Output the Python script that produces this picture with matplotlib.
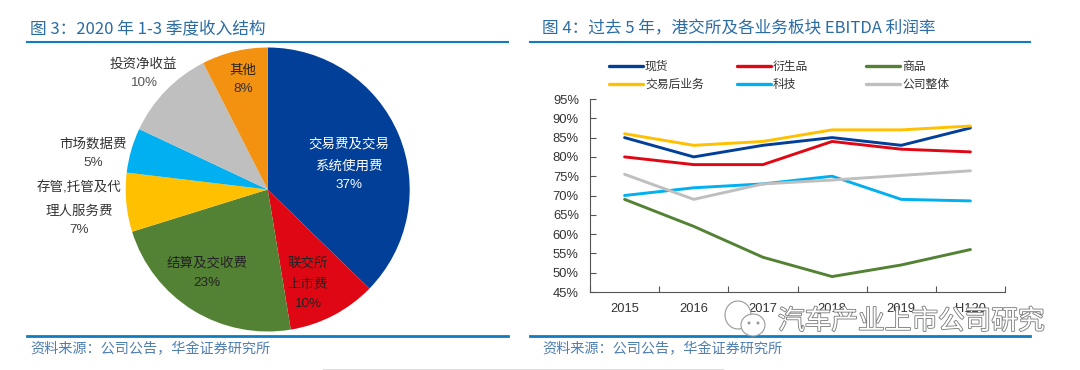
import matplotlib
matplotlib.use('Agg')
import matplotlib.pyplot as plt
import matplotlib.patheffects as pe
from matplotlib.patches import Ellipse

plt.rcParams['font.family'] = ['Liberation Sans', 'Noto Sans CJK SC', 'DejaVu Sans']

W, H = 1080, 370

# Pie data (slices, labels as printed)
pie_names = ['交易费及交易\n系统使用费', '联交所\n上市费', '结算及交收费',
             '存管,托管及代\n理人服务费', '市场数据费', '投资净收益', '其他']
pie_values = [37.3, 10.1, 22.8, 6.7, 5.1, 10.5, 7.5]
pie_pct = ['37%', '10%', '23%', '7%', '5%', '10%', '8%']
pie_colors = ['#023F98', '#E00714', '#548235', '#FFC000', '#00B0F0', '#BFBFBF', '#F39110']

# Line data
years = ['2015', '2016', '2017', '2018', '2019', 'H120']
spot = [85, 80, 83, 85, 83, 87.5]
derivatives = [80, 78, 78, 84, 82, 81.3]
commodities = [69, 62, 54, 49, 52, 56]
post_trade = [86, 83, 84, 87, 87, 88]
tech = [70, 72, 73, 75, 69, 68.6]
overall = [75.5, 69, 73, 74, 75.2, 76.4]
y_ticks = [45, 50, 55, 60, 65, 70, 75, 80, 85, 90, 95]

fig = plt.figure(figsize=(W / 100, H / 100), dpi=100)

# pixel-coordinate layer for titles, rules and free labels
bg = fig.add_axes([0, 0, 1, 1])
bg.set_xlim(0, W)
bg.set_ylim(H, 0)
bg.axis('off')

blue = '#0F7CBF'
title_col = '#2B6CA3'
src_col = '#4F7FAF'
for x0, x1 in [(27, 508), (530, 1030)]:
    bg.plot([x0, x1], [42.3, 42.3], color=blue, lw=1.5)
    bg.plot([x0, x1], [335.8, 335.8], color=blue, lw=2)
bg.plot([323, 723], [369.5, 369.5], color='#555555', lw=1)

title_font = ['Noto Sans CJK SC', 'DejaVu Sans']
bg.text(30, 29, '图 3：2020 年 1-3 季度收入结构', fontsize=12, color=title_col, va='center',
        family=title_font)
bg.text(542, 29, '图 4：过去 5 年，港交所及各业务板块 EBITDA 利润率', fontsize=12, color=title_col,
        va='center', family=title_font)
bg.text(30, 349.5, '资料来源：公司公告，华金证券研究所', fontsize=10.2, color=src_col, va='center')
bg.text(542, 349.5, '资料来源：公司公告，华金证券研究所', fontsize=10.2, color=src_col, va='center')

# Pie
r = 142
cx, cy = 267.7, 189.5
pie_ax = fig.add_axes([(cx - r) / W, 1 - (cy + r) / H, 2 * r / W, 2 * r / H])
pie_ax.pie(pie_values, colors=pie_colors, startangle=90, counterclock=False, radius=1)
pie_ax.set_xlim(-1, 1)
pie_ax.set_ylim(-1, 1)

# x, y of the first label line, second line, percent
label_x = [349, 307.6, 207, 79, 93.3, 143.6, 242.7]
label_y = [(144, 167, 185), (263, 285, 304), (263, None, 283), (188, 211, 230),
           (144, None, 163), (65, None, 83), (71, None, 89)]
label_cols = ['white', '#222222', '#222222', '#333333', '#333333', '#333333', '#222222']
pct_cols = ['white', '#222222', '#222222', '#444444', '#444444', '#555555', '#333333']
for name, pct, x, ys, c1, c2 in zip(pie_names, pie_pct, label_x, label_y, label_cols, pct_cols):
    parts = name.split('\n')
    bg.text(x, ys[0], parts[0], color=c1, fontsize=9.7, ha='center', va='center', zorder=5)
    if len(parts) > 1:
        bg.text(x, ys[1], parts[1], color=c1, fontsize=9.7, ha='center', va='center', zorder=5)
    bg.text(x, ys[2], pct, color=c2, fontsize=9.7, ha='center', va='center', zorder=5)
bg.set_zorder(3)
bg.patch.set_alpha(0)

# Line chart
left, right, top, bottom = 590, 1005, 99, 292
ax = fig.add_axes([left / W, 1 - bottom / H, (right - left) / W, (bottom - top) / H])
x = list(range(len(years)))
series = [
    (spot, '#023F98', '现货'),
    (derivatives, '#E00714', '衍生品'),
    (commodities, '#548235', '商品'),
    (post_trade, '#FFC000', '交易后业务'),
    (tech, '#00B0F0', '科技'),
    (overall, '#BFBFBF', '公司整体'),
]
for vals, col, name in series:
    ax.plot(x, vals, color=col, lw=2.1, label=name, solid_capstyle='round')
ax.set_xlim(-0.5, 5.5)
ax.set_ylim(45, 95)
ax.set_xticks([i - 0.5 for i in range(7)])
ax.set_xticklabels([])
ax.set_xticks(x, minor=True)
ax.set_xticklabels(years, minor=True, fontsize=9.3, color='#333333')
ax.tick_params(axis='x', which='minor', length=0, pad=8)
ax.tick_params(axis='x', which='major', direction='in', length=4, width=0.8, color='#555555')
ax.set_yticks(y_ticks)
ax.set_yticklabels([f'{v}%' for v in y_ticks], fontsize=9.4, color='#333333')
ax.tick_params(axis='y', which='major', direction='in', length=4, width=0.8, color='#555555', pad=8)
ax.spines['top'].set_visible(False)
ax.spines['right'].set_visible(False)
for s in ['left', 'bottom']:
    ax.spines[s].set_color('#555555')
    ax.spines[s].set_linewidth(0.8)
ax.patch.set_alpha(0)

# legend in two rows, as in the source
handles, labels = ax.get_legend_handles_labels()
leg_x = [609, 737, 866]
leg_y = [66, 84]
for i, (h, lab) in enumerate(zip(handles, labels)):
    lx = leg_x[i % 3]
    ly = leg_y[i // 3]
    bg.plot([lx, lx + 34], [ly, ly], color=h.get_color(), lw=2.4, solid_capstyle='round')
    bg.text(lx + 36, ly + 1, lab, fontsize=8.5, color='#333333', va='center')

# watermark
wm = [pe.withStroke(linewidth=1.2, foreground='#777777')]
bg.add_patch(Ellipse((738, 315), 26, 28, fc='white', ec='#999999', lw=0.8, zorder=6))
bg.add_patch(Ellipse((753, 325), 24, 22, fc='white', ec='#999999', lw=0.8, zorder=7))
for dx in (749, 758):
    bg.add_patch(Ellipse((dx, 323), 3, 3, fc='#999999', ec='none', zorder=8))
bg.text(778, 322, '汽车产业上市公司研究', fontsize=19.2, color='white', va='center',
        path_effects=wm, zorder=8)

fig.savefig('out.png', dpi=100)
